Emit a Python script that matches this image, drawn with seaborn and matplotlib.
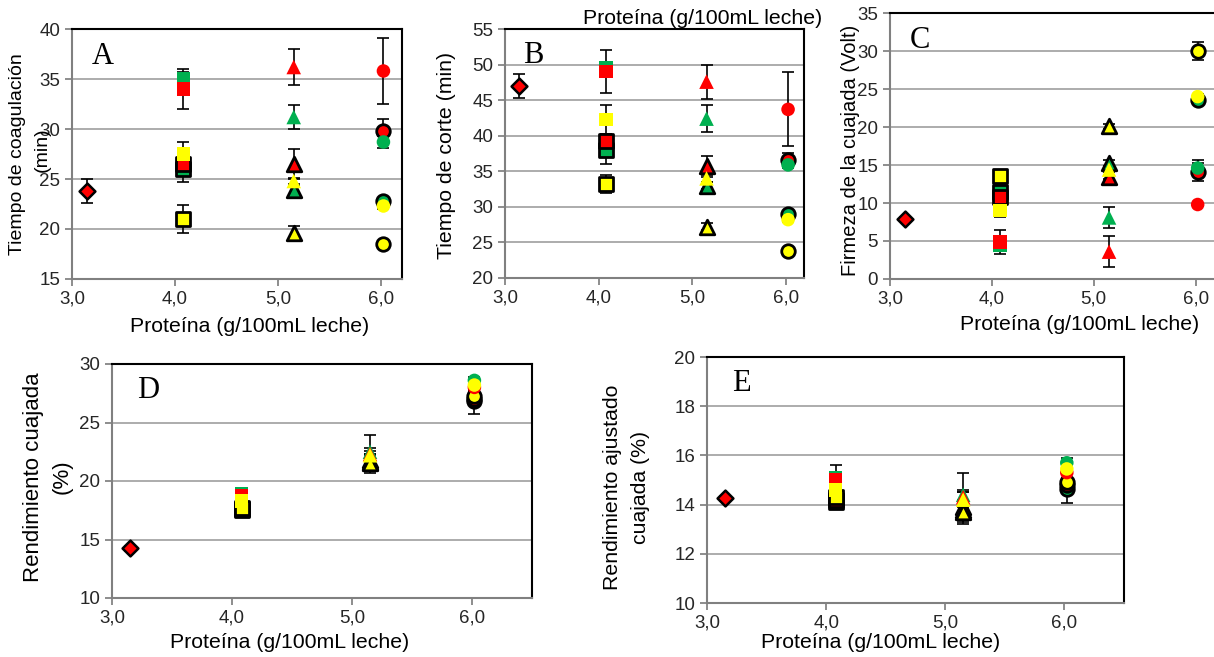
import numpy as np
import pandas as pd
import matplotlib
matplotlib.use("Agg")
import matplotlib.pyplot as plt
import seaborn as sns

# protein levels (g/100mL)
x_control = 3.15
x_levels = [4.08, 5.15, 6.02]
level_markers = ["s", "^", "o"]

# series order: red, green, yellow (no edge) then red, green, yellow (black edge)
series_colors = ["#FF0000", "#00B050", "#FFFF00", "#FF0000", "#00B050", "#FFFF00"]
series_edged = [False, False, False, True, True, True]

# A - tiempo de coagulacion
coag_control = [23.8, 1.2]
coag_vals = [[34.0, 36.2, 35.8], [35.0, 31.2, 28.7], [27.5, 24.8, 22.3],
             [26.5, 26.5, 29.8], [26.0, 23.9, 22.8], [21.0, 19.6, 18.5]]
coag_err = [[2.0, 1.8, 3.3], [0.7, 1.2, 0.6], [1.2, 0.3, 0.3],
            [0.5, 1.5, 1.2], [1.3, 0.4, 0.3], [1.4, 0.7, 0.3]]

# B - tiempo de corte
corte_control = [47.0, 1.7]
corte_vals = [[49.0, 47.6, 43.7], [49.6, 42.4, 35.9], [42.3, 34.0, 28.2],
              [39.3, 35.7, 36.6], [38.0, 33.0, 29.0], [33.2, 27.2, 23.8]]
corte_err = [[3.0, 2.4, 5.2], [0.5, 1.9, 0.5], [2.0, 0.5, 0.3],
             [1.0, 1.5, 1.0], [2.0, 0.5, 0.3], [1.3, 0.5, 0.3]]

# C - firmeza
firm_control = [7.9, 0.3]
firm_vals = [[4.9, 3.6, 9.8], [4.4, 8.1, 14.6], [9.0, 14.4, 24.0],
             [10.8, 13.4, 14.1], [11.5, 15.3, 23.6], [13.5, 20.1, 30.0]]
firm_err = [[1.6, 2.0, 0.2], [0.6, 1.4, 1.0], [0.8, 0.3, 0.3],
            [0.5, 0.3, 1.2], [0.5, 0.4, 0.3], [0.3, 0.3, 1.2]]

# D - rendimiento cuajada
rend_control = [14.25, 0.2]
rend_vals = [[18.7, 22.3, 28.0], [18.9, 22.5, 28.6], [18.3, 22.2, 28.2],
             [17.6, 21.6, 27.0], [17.5, 21.8, 26.8], [17.7, 21.5, 27.3]]
rend_err = [[0.3, 0.5, 0.3], [0.4, 1.4, 0.3], [0.3, 0.4, 0.3],
            [0.3, 0.6, 0.4], [0.3, 0.5, 1.1], [0.3, 0.8, 0.4]]

# E - rendimiento ajustado
ajus_control = [14.25, 0.1]
ajus_vals = [[15.0, 14.3, 15.3], [15.1, 14.4, 15.7], [14.6, 14.2, 15.45],
             [14.2, 13.9, 14.8], [14.1, 13.8, 14.65], [14.3, 13.7, 14.9]]
ajus_err = [[0.2, 0.3, 0.2], [0.5, 0.9, 0.2], [0.2, 0.3, 0.2],
            [0.2, 0.6, 0.2], [0.2, 0.3, 0.6], [0.2, 0.5, 0.2]]

xlabel = "Proteína (g/100mL leche)"

sns.set_theme(style="white")
plt.rcParams["font.family"] = ["Liberation Sans", "DejaVu Sans"]

W, H = 1214, 657
fig = plt.figure(figsize=(W / 100, H / 100), dpi=100)


def make_ax(left, top, right, bottom):
    return fig.add_axes([left / W, 1 - bottom / H, (right - left) / W, (bottom - top) / H])


def draw_panel(ax, control, vals, errs, xmax, ylim, ystep, letter):
    # error bars first, then markers on top
    ax.errorbar(x_control, control[0], yerr=control[1], fmt="none", ecolor="black",
                elinewidth=1.2, capsize=4, capthick=1.2, zorder=2)
    for i in range(len(vals)):
        ax.errorbar(x_levels, vals[i], yerr=errs[i], fmt="none", ecolor="black",
                    elinewidth=1.2, capsize=4, capthick=1.2, zorder=2)
    # drawing order: edged series underneath, plain series on top
    order = [4, 3, 5, 1, 0, 2]
    for i in order:
        for j, m in enumerate(level_markers):
            edged = series_edged[i]
            sns.scatterplot(x=[x_levels[j]], y=[vals[i][j]], ax=ax, marker=m,
                            s=110 if m == "^" else 95,
                            color=series_colors[i],
                            edgecolor="black" if edged else "none",
                            linewidth=2.0 if edged else 0, zorder=3, legend=False)
    sns.scatterplot(x=[x_control], y=[control[0]], ax=ax, marker="D", s=65,
                    color="#FF0000", edgecolor="black", linewidth=1.8, zorder=4,
                    legend=False)

    ax.set_xlim(3.0, xmax)
    ax.set_ylim(*ylim)
    ax.set_xticks([3.0, 4.0, 5.0, 6.0])
    ax.set_xticklabels(["3,0", "4,0", "5,0", "6,0"])
    ax.set_yticks(np.arange(ylim[0], ylim[1] + 0.01, ystep))
    ax.yaxis.grid(True, color="#A6A6A6", linewidth=1.3)
    ax.xaxis.grid(False)
    ax.set_axisbelow(True)
    for side in ["left", "bottom"]:
        ax.spines[side].set_color("#808080")
        ax.spines[side].set_linewidth(1.5)
    for side in ["top", "right"]:
        ax.spines[side].set_color("black")
        ax.spines[side].set_linewidth(1.5)
    ax.tick_params(axis="both", which="major", direction="out", length=5,
                   color="#808080", labelsize=13.5, pad=3.5, left=True, bottom=True)
    ax.set_xlabel("")
    ax.set_ylabel("")
    ax.text(0.06, 0.95, letter, transform=ax.transAxes, ha="left", va="top",
            fontsize=22, family="Liberation Serif", color="black")


axA = make_ax(72, 29, 402, 279)
draw_panel(axA, coag_control, coag_vals, coag_err, 6.2, (15, 40), 5, "A")
axB = make_ax(505, 29, 804, 278)
draw_panel(axB, corte_control, corte_vals, corte_err, 6.19, (20, 55), 5, "B")
axC = make_ax(890, 13, 1216, 279)
draw_panel(axC, firm_control, firm_vals, firm_err, 6.2, (0, 35), 5, "C")
axD = make_ax(112, 364, 532, 598)
draw_panel(axD, rend_control, rend_vals, rend_err, 6.5, (10, 30), 5, "D")
axE = make_ax(707, 357, 1124, 603)
draw_panel(axE, ajus_control, ajus_vals, ajus_err, 6.5, (10, 20), 2, "E")


def label(x, y, text, size, rot=0):
    fig.text(x / W, 1 - y / H, text, fontsize=size, color="black",
             ha="center", va="center", rotation=rot)


# x labels
label(250, 327, xlabel, 15.3)
label(703, 19, xlabel, 15.3)
label(1080, 325, xlabel, 15.3)
label(290, 642, xlabel, 15.3)
label(881, 643, xlabel, 15.3)
# y labels
label(18, 154, "Tiempo de coagulación", 14, 90)
label(42, 150, "(min)", 14, 90)
label(446, 155, "Tiempo de corte (min)", 15.3, 90)
label(851, 150, "Firmeza de la cuajada (Volt)", 14.5, 90)
label(34, 477, "Rendimiento cuajada", 16, 90)
label(62, 477, "(%)", 16, 90)
label(613, 487, "Rendimiento ajustado", 15.3, 90)
label(640, 487, "cuajada (%)", 15.3, 90)

fig.savefig("out.png", dpi=100, facecolor="white")
